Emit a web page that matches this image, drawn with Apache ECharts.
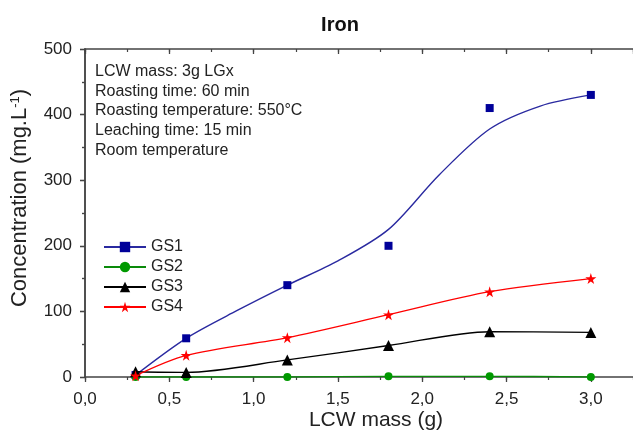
<!DOCTYPE html>
<html>
<head>
<meta charset="utf-8">
<script src="https://cdn.jsdelivr.net/npm/echarts@6/dist/echarts.min.js"></script>
<style>
html,body{margin:0;padding:0;background:#fff;}
#chart{width:633px;height:433px;}
</style>
</head>
<body>
<div id="chart"></div>
<script>
// ---- data ----
const massX = [0.3, 0.6, 1.2, 1.8, 2.4, 3.0];
const gs1 = [3, 59, 140, 200, 410, 430];
const gs2 = [0, 0, 0, 1, 1, 0];
const gs3 = [8, 7, 26, 48, 69, 68];
const gs4 = [2, 33, 60, 95, 130, 150];
// fitted curve drawn for GS1
const gs1FitX = [0.3, 0.6, 0.9, 1.2, 1.5, 1.8, 2.1, 2.4, 2.7, 3.0];
const gs1FitY = [3, 59, 101, 140, 177, 225, 308, 378, 413, 430];
const seriesNames = ['GS1', 'GS2', 'GS3', 'GS4'];
const xTickValues = [0, 0.5, 1.0, 1.5, 2.0, 2.5, 3.0];
const yTickValues = [0, 100, 200, 300, 400, 500];
const titleText = 'Iron';
const xAxisTitle = 'LCW mass (g)';
const noteLines = ['LCW mass: 3g LGx', 'Roasting time: 60 min', 'Roasting temperature: 550°C', 'Leaching time: 15 min', 'Room temperature'];

const FONT = '"Liberation Sans", Arial, Helvetica, sans-serif';
const AX = '#444';
const TXT = '#222';
const STAR = 'path://M50,0 L61,35 L98,35 L68,57 L79,91 L50,70 L21,91 L32,57 L2,35 L39,35 Z';

const pairs = (xs, ys) => xs.map((x, i) => [x, ys[i]]);

const chart = echarts.init(document.getElementById('chart'), null, {renderer: 'canvas'});

const xBase = {
  type: 'value', min: 0, max: 3.25, gridIndex: 0,
  splitLine: {show: false}
};
const yBase = {
  type: 'value', min: yTickValues[0], max: yTickValues[yTickValues.length - 1], interval: 100, gridIndex: 0,
  splitLine: {show: false}
};

const option = {
  animation: false,
  backgroundColor: '#fff',
  grid: {left: 85, top: 49, right: 0, bottom: 56, containLabel: false},
  xAxis: [
    Object.assign({}, xBase, {
      position: 'bottom', interval: 0.5,
      axisLine: {show: true, lineStyle: {color: AX, width: 1.5}},
      axisTick: {show: true, inside: false, length: 5, lineStyle: {color: AX, width: 1.3}},
      axisLabel: {
        show: true, margin: 14, color: TXT, fontSize: 17, fontFamily: FONT,
        showMaxLabel: false,
        formatter: v => (xTickValues.indexOf(+v) >= 0 ? (+v).toFixed(1).replace('.', ',') : '')
      }
    }),
    Object.assign({}, xBase, {
      position: 'bottom', interval: 0.25,
      axisLine: {show: false},
      axisTick: {show: true, inside: false, length: 3, lineStyle: {color: AX, width: 1.2}},
      axisLabel: {show: false}
    }),
    Object.assign({}, xBase, {
      position: 'top', interval: 0.5,
      axisLine: {show: true, lineStyle: {color: AX, width: 1.5}},
      axisTick: {show: true, inside: true, length: 5, lineStyle: {color: AX, width: 1.3}},
      axisLabel: {show: false}
    }),
    Object.assign({}, xBase, {
      position: 'top', interval: 0.25,
      axisLine: {show: false},
      axisTick: {show: true, inside: true, length: 3, lineStyle: {color: AX, width: 1.2}},
      axisLabel: {show: false}
    })
  ],
  yAxis: [
    Object.assign({}, yBase, {
      position: 'left',
      axisLine: {show: true, lineStyle: {color: AX, width: 1.5}},
      axisTick: {show: true, inside: false, length: 5, lineStyle: {color: AX, width: 1.3}},
      minorTick: {show: true, splitNumber: 2, length: 3, lineStyle: {color: AX, width: 1.2}},
      axisLabel: {show: true, margin: 13, color: TXT, fontSize: 17, fontFamily: FONT}
    }),
    Object.assign({}, yBase, {
      position: 'right',
      axisLine: {show: true, lineStyle: {color: AX, width: 1.5}},
      axisTick: {show: true, inside: true, length: 5, lineStyle: {color: AX, width: 1.3}},
      minorTick: {show: true, splitNumber: 2, length: 3, lineStyle: {color: AX, width: 1.2}},
      axisLabel: {show: false}
    })
  ],
  legend: {
    orient: 'vertical', left: 98, top: 234,
    data: seriesNames,
    itemWidth: 42, itemHeight: 13, itemGap: 4,
    selectedMode: false,
    textStyle: {color: TXT, fontSize: 16, fontFamily: FONT, padding: [0, 0, 0, 0]}
  },
  series: [
    {
      name: seriesNames[0], type: 'line', xAxisIndex: 0, yAxisIndex: 0,
      data: pairs(gs1FitX, gs1FitY), smooth: 0.3, showSymbol: false, symbol: 'rect', symbolSize: 8,
      lineStyle: {color: '#2a2aa0', width: 1.4},
      itemStyle: {color: '#000099'}, z: 2
    },
    {
      name: seriesNames[0], type: 'scatter', xAxisIndex: 0, yAxisIndex: 0,
      data: pairs(massX, gs1), symbol: 'rect', symbolSize: 8,
      itemStyle: {color: '#000099', opacity: 1}, z: 3
    },
    {
      name: seriesNames[1], type: 'line', xAxisIndex: 0, yAxisIndex: 0,
      data: pairs(massX, gs2), smooth: 0.3, symbol: 'circle', symbolSize: 8, showSymbol: true,
      lineStyle: {color: '#0a8a0a', width: 1.4},
      itemStyle: {color: '#009900'}, z: 3
    },
    {
      name: seriesNames[2], type: 'line', xAxisIndex: 0, yAxisIndex: 0,
      data: pairs(massX, gs3), smooth: 0.3, symbol: 'triangle', symbolSize: 11, showSymbol: true,
      lineStyle: {color: '#000000', width: 1.3},
      itemStyle: {color: '#000000'}, z: 4
    },
    {
      name: seriesNames[3], type: 'line', xAxisIndex: 0, yAxisIndex: 0,
      data: pairs(massX, gs4), smooth: 0.3, symbol: STAR, symbolSize: 11, showSymbol: true,
      lineStyle: {color: '#ff0000', width: 1.3},
      itemStyle: {color: '#ff0000'}, z: 4
    }
  ],
  graphic: [
    {
      type: 'text', x: 340, y: 25, silent: true,
      style: {text: titleText, fill: '#111', font: 'bold 20px ' + FONT, align: 'center', verticalAlign: 'middle'}
    },
    {
      type: 'text', x: 95, y: 62, silent: true,
      style: {text: noteLines.join('\n'), fill: TXT, font: '16px ' + FONT, lineHeight: 19.6, align: 'left', verticalAlign: 'top'}
    },
    {
      type: 'text', x: 376, y: 420, silent: true,
      style: {text: xAxisTitle, fill: TXT, font: '21px ' + FONT, align: 'center', verticalAlign: 'middle'}
    },
    {
      type: 'text', x: 20, y: 198, rotation: Math.PI / 2, silent: true,
      style: {
        text: 'Concentration (mg.L{sup|-1})', fill: TXT, font: '22px ' + FONT, align: 'center', verticalAlign: 'middle',
        rich: {sup: {fontSize: 13, fontFamily: FONT, fill: TXT, verticalAlign: 'top', padding: [0, 0, 9, 0]}}
      }
    }
  ]
};
chart.setOption(option);
</script>
</body>
</html>
